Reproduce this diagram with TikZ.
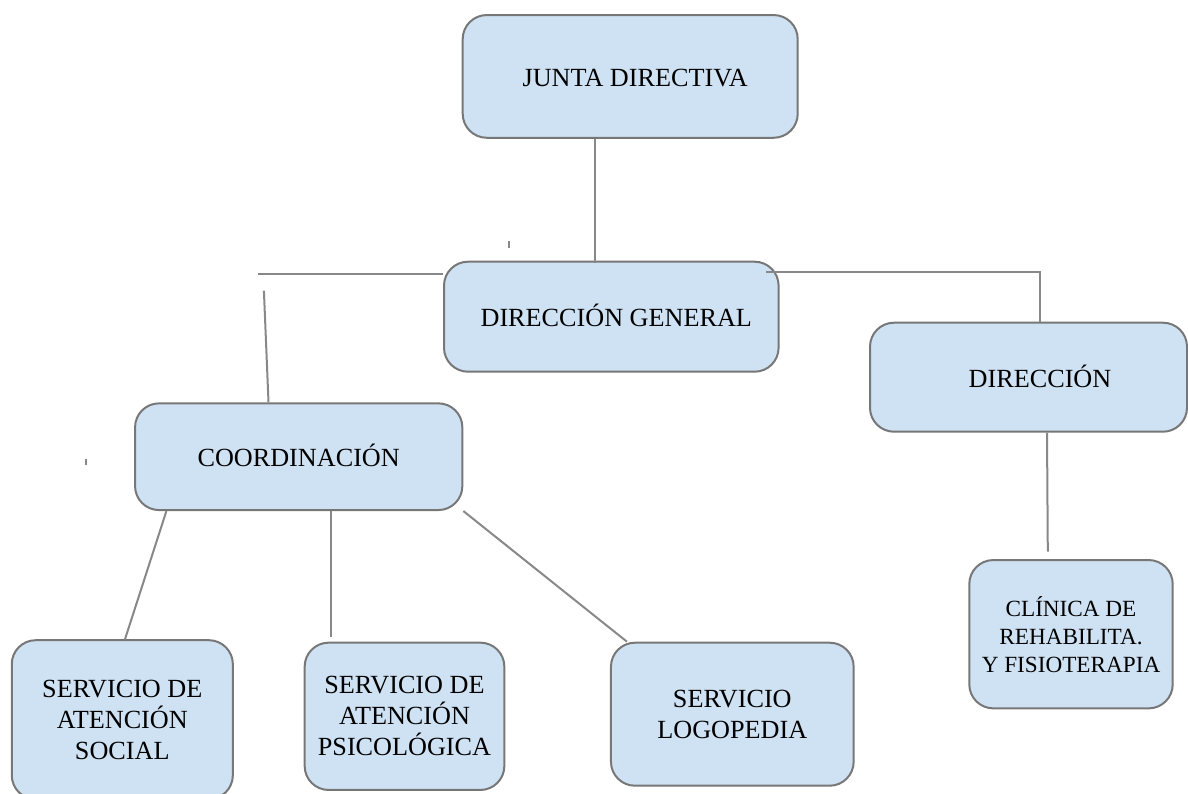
\documentclass[tikz,border=0pt]{standalone}
\usepackage{fontspec}
\setmainfont{Liberation Serif}
\definecolor{boxfill}{HTML}{CFE2F3}
\definecolor{boxline}{HTML}{777777}
\definecolor{conn}{HTML}{888888}
\begin{document}
\begin{tikzpicture}[x=1pt,y=-1pt,
  orgbox/.style={draw=boxline, line width=2pt, fill=boxfill, rounded corners=24pt, inner sep=0pt, font=\fontsize{26.2}{31}\selectfont},
  single/.style={text height=20pt, text depth=0pt},
  multi/.style={align=center},
  link/.style={draw=conn, line width=2pt}]
\clip (0,0) rectangle (1188,793);
% boxes
\node[orgbox, single, minimum width=335pt, minimum height=122.7pt] (jd) at (630.2,76.4) {\hspace*{10pt}JUNTA DIRECTIVA};
\node[orgbox, single, minimum width=334.6pt, minimum height=110pt] (dg) at (611.3,316.7) {\hspace*{10pt}DIRECCIÓN GENERAL};
\node[orgbox, single, minimum width=317pt, minimum height=109pt] (dir) at (1028.5,377.2) {\hspace*{23pt}DIRECCIÓN};
\node[orgbox, single, minimum width=327.3pt, minimum height=106.7pt] (coord) at (298.7,456.7) {COORDINACIÓN};
\node[orgbox, multi, minimum width=221.1pt, minimum height=159pt] (soc) at (122.3,719.7) {SERVICIO DE\\ATENCIÓN\\SOCIAL};
\node[orgbox, multi, minimum width=199.7pt, minimum height=147.3pt] (psi) at (404.5,716.3) {SERVICIO DE\\ATENCIÓN\\PSICOLÓGICA};
\node[orgbox, multi, minimum width=242.7pt, minimum height=143pt] (logo) at (732.3,714.2) {SERVICIO\\LOGOPEDIA};
\node[orgbox, multi, minimum width=203.4pt, minimum height=148.3pt, font=\fontsize{23.2}{28}\selectfont] (cli) at (1071,634.2) {CLÍNICA DE\\REHABILITA.\\Y FISIOTERAPIA};
% free ends
\coordinate (c1) at (595.4,0);
\coordinate (lf) at (257.9,274);
\coordinate (cs) at (263.9,290.7);
\coordinate (rs) at (765.7,271.7);
\coordinate (ce) at (1047.8,551.7);
\coordinate (pe) at (331,636.7);
\coordinate (tk1a) at (508.6,241);
\coordinate (tk1b) at (508.6,248);
\coordinate (tk2a) at (86,459);
\coordinate (tk2b) at (86,465);
% connectors
\draw[link] (jd.south -| c1) -- ([yshift=-2.3pt]dg.north -| c1);
\draw[link] (lf) -- (lf -| dg.west);
\draw[link] (cs) -- ([xshift=-30.2pt]coord.north);
\draw[link] (rs) -| ([xshift=11.5pt]dir.north);
\draw[link] ([xshift=18.5pt]dir.south) -- (ce);
\draw[link] ([xshift=-132.3pt]coord.south) -- ([xshift=2.7pt]soc.north);
\draw[link] ([xshift=32.3pt]coord.south) -- (pe);
\draw[link] (coord.south east) -- ([xshift=17pt]logo.north west);
\draw[link] (tk1a) -- (tk1b);
\draw[link] (tk2a) -- (tk2b);
\end{tikzpicture}
\end{document}
